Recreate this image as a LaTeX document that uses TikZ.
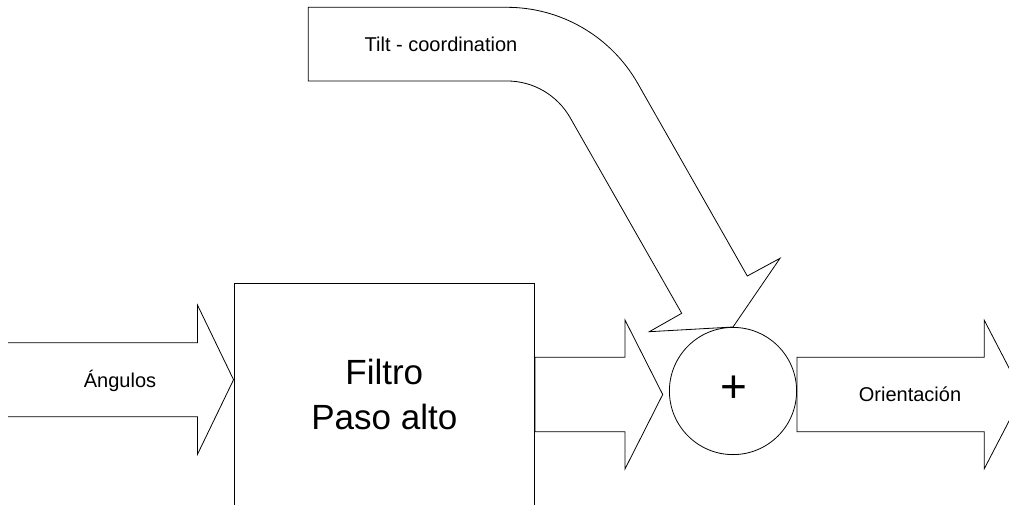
\documentclass[tikz,border=0pt]{standalone}
\usepackage{fontspec}
\setmainfont{Liberation Sans}
\usetikzlibrary{calc}
\begin{document}
\begin{tikzpicture}[x=1pt,y=1pt,
  outline/.style={draw=black, line width=0.8pt, line join=miter},
  small/.style={font=\fontsize{20}{24}\selectfont, inner sep=0pt, anchor=base},
]
\useasboundingbox (0,0) rectangle (1009,-504);
\clip (0,0) rectangle (1009,-504);

% filter block and summing junction
\node[outline, rectangle, minimum width=300.7pt, minimum height=223pt, inner sep=0pt,
      align=center, font=\fontsize{35}{44.7}\selectfont] (filt) at (384.3,-394.5) {Filtro\\Paso alto};
\node[outline, circle, minimum size=127.2pt, inner sep=0pt] (sum) at (733,-391) {};
\node[font=\fontsize{46}{46}\selectfont, inner sep=0pt] (plus) at (733.5,-389) {+};

% input block arrow (open tail)
\coordinate (inTail) at (8,-379.7);
\coordinate (inTip) at (filt.west |- inTail);
\draw[outline] ($(inTail)+(0,37)$) -- ($(inTip)+(-36,37)$) -- ($(inTip)+(-36,74.5)$) -- (inTip)
  -- ($(inTip)+(-36,-74.5)$) -- ($(inTip)+(-36,-37)$) -- ($(inTail)+(0,-37)$);
\node[small] (angl) at (120,-387) {Ángulos};

% filter output into the junction
\coordinate (midTip) at (662.7,-394.5);
\coordinate (midTail) at (filt.east |- midTip);
\draw[outline] ($(midTail)+(0,37.2)$) -- ($(midTip)+(-37.7,37.2)$) -- ($(midTip)+(-37.7,74.5)$) -- (midTip)
  -- ($(midTip)+(-37.7,-74.5)$) -- ($(midTip)+(-37.7,-37.2)$) -- ($(midTail)+(0,-37.2)$) -- cycle;

% output block arrow
\coordinate (outTip) at (1022.8,-394.5);
\coordinate (outTail) at (sum.east |- outTip);
\draw[outline] ($(outTail)+(0,37.2)$) -- ($(outTip)+(-38.5,37.2)$) -- ($(outTip)+(-38.5,74.2)$) -- (outTip)
  -- ($(outTip)+(-38.5,-74.2)$) -- ($(outTip)+(-38.5,-37.2)$) -- ($(outTail)+(0,-37.2)$) -- cycle;
\node[small] (orient) at (910,-401) {Orientación};

% curved tilt-coordination arrow into the top of the junction
\draw[outline] (308.3,-81) -- (308.3,-7.3) -- (506.8,-7.3)
  arc[start angle=90, end angle=29.75, radius=150.7]
  -- (747.3,-276) -- (780,-258.3) -- (sum.north) -- (649.3,-331.7) -- (681.7,-313.3)
  -- (570.1,-117.6) arc[start angle=29.75, end angle=90, radius=72.7] -- cycle;
\node[small] (tilt) at (441,-51.7) {Tilt - coordination};
\end{tikzpicture}
\end{document}
